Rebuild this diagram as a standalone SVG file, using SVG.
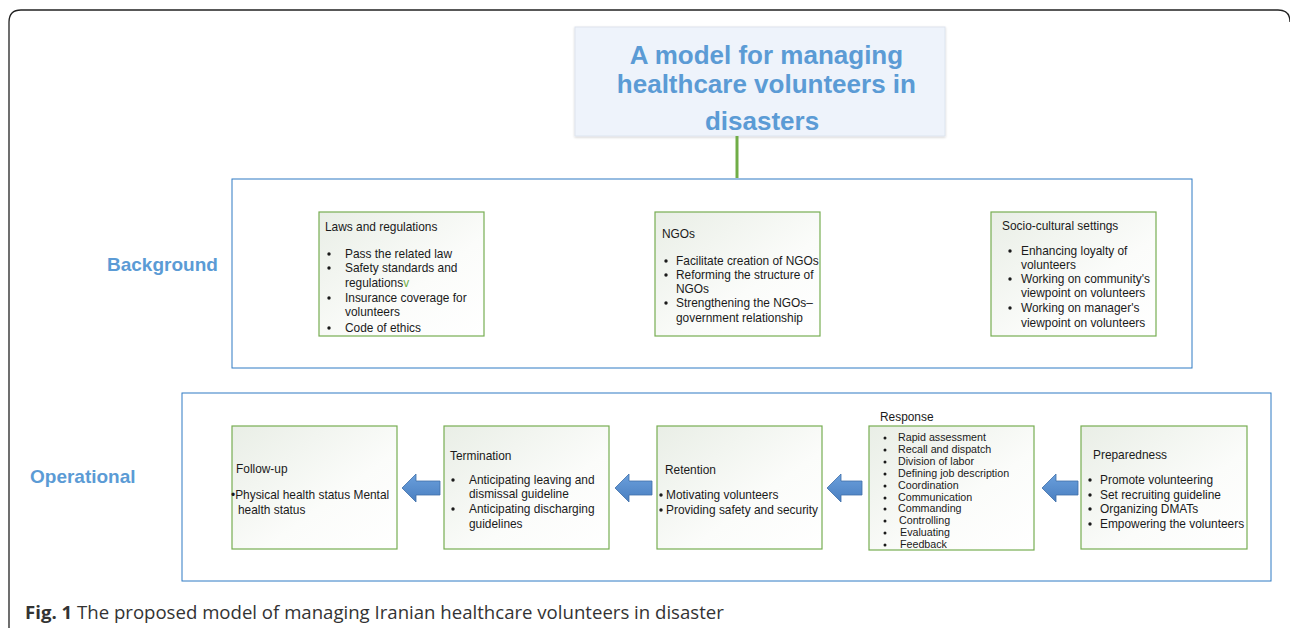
<svg xmlns="http://www.w3.org/2000/svg" width="1290" height="630" viewBox="0 0 1290 630">
<defs>
<linearGradient id="bg" x1="0" y1="0" x2="1" y2="1">
<stop offset="0" stop-color="#e9eee6"/>
<stop offset="0.6" stop-color="#fbfcfa"/>
<stop offset="1" stop-color="#ffffff"/>
</linearGradient>
<linearGradient id="ag" x1="0" y1="0" x2="0" y2="1">
<stop offset="0" stop-color="#6a9fdc"/>
<stop offset="1" stop-color="#4a7fc0"/>
</linearGradient>
<filter id="sh" x="-5%" y="-5%" width="110%" height="115%">
<feDropShadow dx="0" dy="1" stdDeviation="1.2" flood-color="#000" flood-opacity="0.18"/>
</filter>
</defs>
<style>
.t{font-family:"Liberation Sans",Arial,sans-serif;font-size:11.9px;fill:#1a1a1a}
.s{font-family:"Liberation Sans",Arial,sans-serif;font-size:10.7px;fill:#1a1a1a}
.d{fill:#1a1a1a}
.box{fill:url(#bg);stroke:#77ad52;stroke-width:1.2}
.frame{fill:none;stroke:#2f7bc4;stroke-width:1}
.lab{font-family:"Liberation Sans",Arial,sans-serif;font-size:19px;font-weight:bold;fill:#5b9bd5}
.arr{fill:url(#ag);stroke:#3f6fa8;stroke-width:0.8}
</style>
<rect width="1290" height="630" fill="#fff"/>
<path d="M9,628 L9,22 Q9,10 21,10 L1278,10 Q1290,10 1290,22" fill="none" stroke="#222" stroke-width="1.3"/>

<g id="title">
<rect x="575" y="27" width="370" height="109" fill="#eef3fb" stroke="#dde4ee" stroke-width="1" filter="url(#sh)"/>
<text font-family="'Liberation Sans',Arial,sans-serif" font-size="26" font-weight="bold" fill="#5b9bd5" text-anchor="middle">
<tspan x="770" y="64">A model for managing</tspan>
<tspan x="770" y="93">healthcare volunteers in</tspan>
<tspan x="762" y="130">disasters</tspan>
</text>
</g>

<g id="connectors">
<line x1="737" y1="136" x2="737" y2="178" stroke="#70ad47" stroke-width="3"/>
<path class="arr" d="M402,488 L416,474 L416,481 L440,481 L440,495 L416,495 L416,502 Z"/>
<path class="arr" d="M615,488 L629,474 L629,481 L652,481 L652,495 L629,495 L629,502 Z"/>
<path class="arr" d="M827,488 L841,474 L841,481 L862,481 L862,495 L841,495 L841,502 Z"/>
<path class="arr" d="M1042,488 L1056,474 L1056,481 L1078,481 L1078,495 L1056,495 L1056,502 Z"/>
</g>

<g id="background">
<rect class="frame" x="232" y="179" width="960" height="189"/>
<text class="lab" x="107" y="271">Background</text>
</g>

<g id="laws">
<rect class="box" x="319" y="212" width="165" height="124"/>
<text class="t" x="325" y="231">Laws and regulations</text>
<g class="d"><circle cx="329" cy="254" r="1.7"/><circle cx="329" cy="268" r="1.7"/><circle cx="329" cy="298" r="1.7"/><circle cx="329" cy="328" r="1.7"/></g>
<text class="t"><tspan x="345" y="258">Pass the related law</tspan><tspan x="345" y="272">Safety standards and</tspan><tspan x="345" y="287">regulations<tspan fill="#70ad47">v</tspan></tspan><tspan x="345" y="302">Insurance coverage for</tspan><tspan x="345" y="316">volunteers</tspan><tspan x="345" y="332">Code of ethics</tspan></text>
</g>

<g id="ngos">
<rect class="box" x="655" y="212" width="165" height="124"/>
<text class="t" x="662" y="238">NGOs</text>
<g class="d"><circle cx="666" cy="261" r="1.7"/><circle cx="666" cy="275" r="1.7"/><circle cx="666" cy="303" r="1.7"/></g>
<text class="t"><tspan x="676" y="265">Facilitate creation of NGOs</tspan><tspan x="676" y="279">Reforming the structure of</tspan><tspan x="676" y="293">NGOs</tspan><tspan x="676" y="307">Strengthening the NGOs–</tspan><tspan x="676" y="322">government relationship</tspan></text>
</g>

<g id="socio">
<rect class="box" x="991" y="212" width="165" height="124"/>
<text class="t" x="1002" y="230">Socio-cultural settings</text>
<g class="d"><circle cx="1010" cy="251" r="1.7"/><circle cx="1010" cy="279" r="1.7"/><circle cx="1010" cy="308" r="1.7"/></g>
<text class="t"><tspan x="1021" y="255">Enhancing loyalty of</tspan><tspan x="1021" y="269">volunteers</tspan><tspan x="1021" y="283">Working on community's</tspan><tspan x="1021" y="297">viewpoint on volunteers</tspan><tspan x="1021" y="312">Working on manager's</tspan><tspan x="1021" y="327">viewpoint on volunteers</tspan></text>
</g>

<g id="operational">
<rect class="frame" x="182" y="393" width="1089" height="188"/>
<text class="lab" x="30" y="483">Operational</text>
</g>

<g id="followup">
<rect class="box" x="232" y="426" width="165" height="123"/>
<text class="t" x="236" y="473">Follow-up</text>
<text class="t"><tspan x="231" y="499">•Physical health status Mental</tspan><tspan x="238" y="514">health status</tspan></text>
</g>

<g id="termination">
<rect class="box" x="444" y="426" width="165" height="123"/>
<text class="t" x="450" y="460">Termination</text>
<g class="d"><circle cx="453" cy="480" r="1.7"/><circle cx="453" cy="509" r="1.7"/></g>
<text class="t"><tspan x="469" y="484">Anticipating leaving and</tspan><tspan x="469" y="498">dismissal guideline</tspan><tspan x="469" y="513">Anticipating discharging</tspan><tspan x="469" y="528">guidelines</tspan></text>
</g>

<g id="retention">
<rect class="box" x="657" y="426" width="165" height="123"/>
<text class="t" x="665" y="474">Retention</text>
<g class="d"><circle cx="661" cy="495" r="1.7"/><circle cx="661" cy="510" r="1.7"/></g>
<text class="t"><tspan x="666" y="499">Motivating volunteers</tspan><tspan x="666" y="514">Providing safety and security</tspan></text>
</g>

<g id="response">
<text class="t" x="880" y="421">Response</text>
<rect class="box" x="869" y="426" width="165" height="124"/>
<g class="d"><circle cx="885" cy="438" r="1.5"/><circle cx="885" cy="450" r="1.5"/><circle cx="885" cy="462" r="1.5"/><circle cx="885" cy="474" r="1.5"/><circle cx="885" cy="486" r="1.5"/><circle cx="885" cy="498" r="1.5"/><circle cx="885" cy="509" r="1.5"/><circle cx="885" cy="521" r="1.5"/><circle cx="885" cy="533" r="1.5"/><circle cx="885" cy="545" r="1.5"/></g>
<text class="s"><tspan x="898" y="441">Rapid assessment</tspan><tspan x="898" y="453">Recall and dispatch</tspan><tspan x="898" y="465">Division of labor</tspan><tspan x="898" y="477">Defining job description</tspan><tspan x="898" y="489">Coordination</tspan><tspan x="898" y="501">Communication</tspan><tspan x="898" y="512">Commanding</tspan><tspan x="899" y="524">Controlling</tspan><tspan x="900" y="536">Evaluating</tspan><tspan x="900" y="548">Feedback</tspan></text>
</g>

<g id="preparedness">
<rect class="box" x="1081" y="426" width="166" height="123"/>
<text class="t" x="1093" y="459">Preparedness</text>
<g class="d"><circle cx="1090" cy="480" r="1.7"/><circle cx="1090" cy="495" r="1.7"/><circle cx="1090" cy="509" r="1.7"/><circle cx="1090" cy="524" r="1.7"/></g>
<text class="t"><tspan x="1100" y="484">Promote volunteering</tspan><tspan x="1100" y="499">Set recruiting guideline</tspan><tspan x="1100" y="513">Organizing DMATs</tspan><tspan x="1100" y="528">Empowering the volunteers</tspan></text>
</g>

<g id="caption">
<text font-family="'Open Sans','Liberation Sans',sans-serif" font-size="18.6" fill="#333" x="25" y="619"><tspan font-weight="bold">Fig. 1</tspan> The proposed model of managing Iranian healthcare volunteers in disaster</text>
</g>
</svg>
